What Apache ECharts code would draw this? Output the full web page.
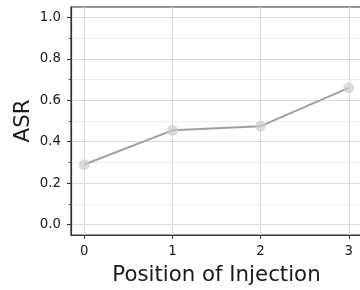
<!DOCTYPE html>
<html>
<head>
<meta charset="utf-8">
<script src="https://cdn.jsdelivr.net/npm/echarts@6/dist/echarts.min.js"></script>
<style>
  html, body { margin: 0; padding: 0; background: #fff; }
  #chart { width: 360px; height: 290px; }
</style>
</head>
<body>
<div id="chart"></div>
<script>
const positions = [0, 1, 2, 3];
const asrValues = [0.29, 0.455, 0.475, 0.66];
const xTicks = [0, 1, 2, 3];
const yMajorTicks = [0, 0.2, 0.4, 0.6, 0.8, 1.0];
const yMinorTicks = [0.1, 0.3, 0.5, 0.7, 0.9];

const font = 'DejaVu Sans';
const dark = '#1a1a1a';

const myChart = echarts.init(document.getElementById('chart'), null, {
  renderer: 'canvas'
});

const option = {
  animation: false,
  grid: {
    left: 71,
    top: 7,
    width: 291,
    height: 228,
    containLabel: false,
    outerBoundsMode: 'none',
    show: true,
    borderColor: '#333',
    borderWidth: 1.2
  },
  xAxis: {
    type: 'value',
    min: -0.15,
    max: 3.15,
    name: 'Position of Injection',
    nameLocation: 'middle',
    nameGap: 30,
    nameTextStyle: { fontFamily: font, fontSize: 21.3, color: dark },
    axisLine: { show: true, onZero: false, lineStyle: { color: '#333', width: 1.2 } },
    axisTick: { show: true, length: 4, customValues: xTicks, lineStyle: { color: '#333', width: 1 } },
    axisLabel: {
      customValues: xTicks,
      margin: 10,
      fontFamily: font,
      fontSize: 13.3,
      color: dark,
      formatter: (v) => String(v)
    },
    splitLine: { show: true, lineStyle: { color: '#dcdcdc', width: 1 } }
  },
  yAxis: [
    {
      type: 'value',
      min: -0.05,
      max: 1.05,
      name: 'ASR',
      nameLocation: 'middle',
      nameGap: 37,
      nameMoveOverlap: false,
      nameRotate: 90,
      nameTextStyle: { fontFamily: font, fontSize: 21.3, color: dark },
      axisLine: { show: true, onZero: false, lineStyle: { color: '#333', width: 1.2 } },
      axisTick: { show: true, length: 4, customValues: yMajorTicks, lineStyle: { color: '#333', width: 1 } },
      axisLabel: {
        customValues: yMajorTicks,
        margin: 10,
        fontFamily: font,
        fontSize: 13.3,
        color: dark,
        formatter: (v) => v.toFixed(1)
      },
      splitLine: { show: true, lineStyle: { color: '#dcdcdc', width: 1 } }
    },
    {
      type: 'value',
      min: -0.05,
      max: 1.05,
      position: 'left',
      offset: 0,
      axisLine: { show: false, onZero: false },
      axisTick: { show: true, length: 2.5, customValues: yMinorTicks, lineStyle: { color: '#333', width: 0.8 } },
      axisLabel: { show: false, customValues: yMinorTicks },
      splitLine: { show: true, lineStyle: { color: '#ededed', width: 1 } }
    }
  ],
  series: [
    {
      name: 'ASR',
      type: 'line',
      data: positions.map((p, i) => [p, asrValues[i]]),
      symbol: 'circle',
      symbolSize: 11,
      showSymbol: true,
      itemStyle: { color: 'rgba(205,205,205,0.7)' },
      lineStyle: { color: '#a0a0a0', width: 2 },
      z: 5
    }
  ]
};

myChart.setOption(option);
</script>
</body>
</html>
